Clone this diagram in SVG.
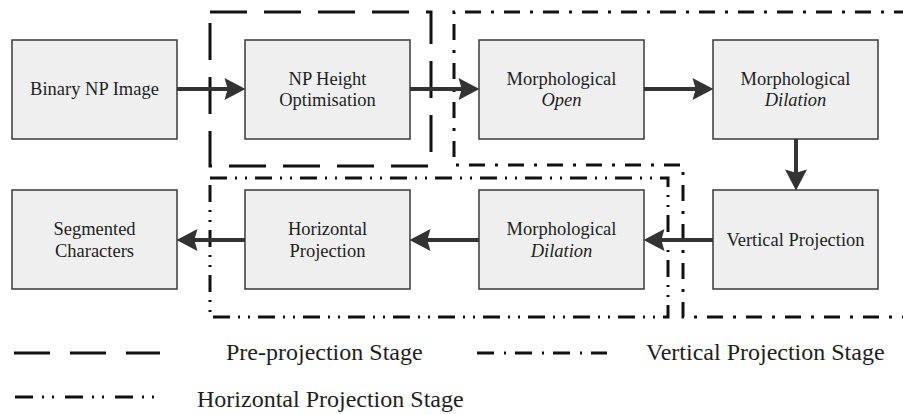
<svg xmlns="http://www.w3.org/2000/svg" width="903" height="414" viewBox="0 0 903 414">
<style>
.box{fill:#efefef;stroke:#3a3a3a;stroke-width:1.5}
.t{font-size:18.5px;fill:#1e1e1e;text-anchor:middle}
.i{font-style:italic}
.lg{font-size:24px;fill:#1e1e1e}
.arr{stroke:#333;stroke-width:4;fill:none;marker-end:url(#ah)}
.pre{fill:none;stroke:#111;stroke-width:3;stroke-dasharray:37 17}
.ver{fill:none;stroke:#111;stroke-width:3;stroke-dasharray:16 10 3 10}
.hor{fill:none;stroke:#111;stroke-width:3;stroke-dasharray:17 8 2 8 2 8}
</style>
<defs>
<marker id="ah" markerUnits="userSpaceOnUse" markerWidth="22" markerHeight="22" viewBox="0 0 20 21" refX="10" refY="10.5" orient="auto">
<path d="M0,0 L20,10.5 L0,21 L3,10.5 Z" fill="#333"/>
</marker>
</defs>
<g id="stages">
<rect x="210" y="12" width="221" height="154" class="pre"/>
<path d="M910,12 H454 V165 H683 V317 H910" class="ver"/>
<rect x="210" y="178" width="458" height="139" class="hor"/>
</g>
<g font-family="'Liberation Serif', 'Times New Roman', Times, serif">
<g id="n1"><rect class="box" x="12" y="40" width="165" height="99"/><text class="t" x="94.5" y="95">Binary NP Image</text></g>
<g id="n2"><rect class="box" x="245" y="40" width="165" height="99"/><text class="t" x="327.5" y="85">NP Height</text><text class="t" x="327.5" y="106">Optimisation</text></g>
<g id="n3"><rect class="box" x="479" y="40" width="165" height="99"/><text class="t" x="561.5" y="85">Morphological</text><text class="t i" x="561.5" y="106">Open</text></g>
<g id="n4"><rect class="box" x="713" y="40" width="165" height="99"/><text class="t" x="795.5" y="85">Morphological</text><text class="t i" x="795.5" y="106">Dilation</text></g>
<g id="n5"><rect class="box" x="713" y="190" width="165" height="99"/><text class="t" x="795.5" y="246">Vertical Projection</text></g>
<g id="n6"><rect class="box" x="479" y="190" width="165" height="99"/><text class="t" x="561.5" y="235">Morphological</text><text class="t i" x="561.5" y="257">Dilation</text></g>
<g id="n7"><rect class="box" x="245" y="190" width="165" height="99"/><text class="t" x="327.5" y="235">Horizontal</text><text class="t" x="327.5" y="257">Projection</text></g>
<g id="n8"><rect class="box" x="12" y="190" width="165" height="99"/><text class="t" x="94.5" y="235">Segmented</text><text class="t" x="94.5" y="257">Characters</text></g>
</g>
<g id="connectors">
<line class="arr" x1="177" y1="89" x2="235" y2="89"/>
<line class="arr" x1="410" y1="89" x2="469" y2="89"/>
<line class="arr" x1="644" y1="89" x2="703" y2="89"/>
<line class="arr" x1="796" y1="139" x2="796" y2="180"/>
<line class="arr" x1="713" y1="240" x2="654" y2="240"/>
<line class="arr" x1="479" y1="240" x2="420" y2="240"/>
<line class="arr" x1="245" y1="240" x2="187" y2="240"/>
</g>
<g id="legend" font-family="'Liberation Serif', 'Times New Roman', Times, serif">
<line x1="14" y1="353" x2="160" y2="353" stroke="#111" stroke-width="3" stroke-dasharray="36 20"/>
<text class="lg" x="226" y="360">Pre-projection Stage</text>
<line x1="477" y1="353" x2="607" y2="353" stroke="#111" stroke-width="3" stroke-dasharray="17 10 2 9"/>
<text class="lg" x="646" y="360">Vertical Projection Stage</text>
<line x1="15" y1="397" x2="156" y2="397" stroke="#111" stroke-width="3" stroke-dasharray="18 9 2 8 2 11"/>
<text class="lg" x="197" y="407">Horizontal Projection Stage</text>
</g>
</svg>
